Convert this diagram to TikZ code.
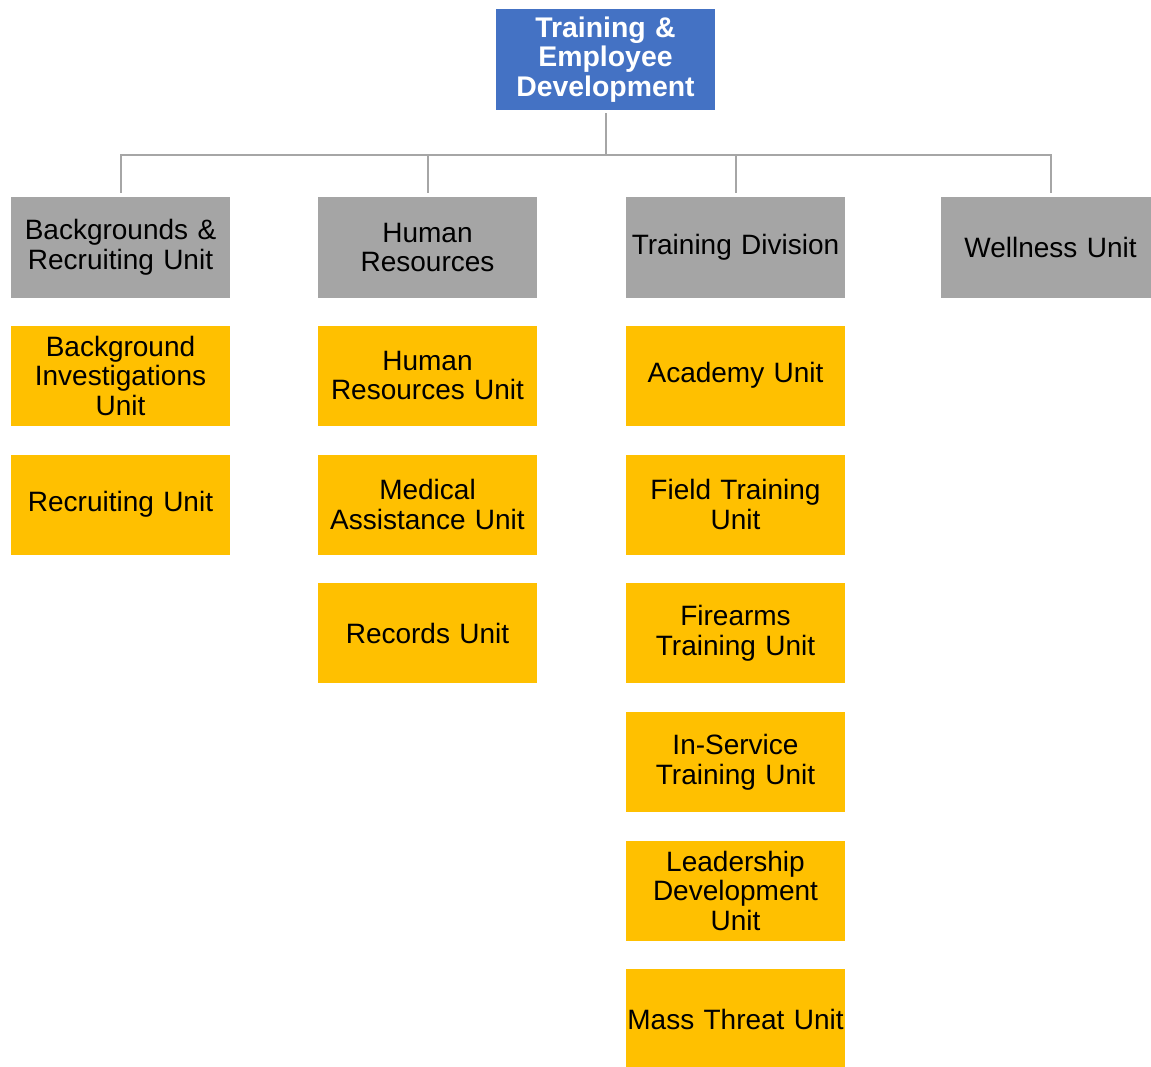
\documentclass[tikz,border=0pt]{standalone}
\usepackage{fontspec}
\setmainfont{Liberation Sans}
\definecolor{topblue}{HTML}{4472C4}
\definecolor{midgray}{HTML}{A5A5A5}
\definecolor{unityellow}{HTML}{FFC000}
\definecolor{linegray}{HTML}{A6A6A6}
\begin{document}
\begin{tikzpicture}[x=1pt,y=-1pt,
  box/.style={rectangle, inner sep=0pt, minimum width=219pt, minimum height=101pt,
    text width=219pt, align=center, font=\fontsize{28}{29.5}\selectfont},
  headbox/.style={box, fill=topblue, text=white, font=\bfseries\fontsize{28.4}{29.5}\selectfont},
  grpbox/.style={box, fill=midgray, text=black},
  unitbox/.style={box, fill=unityellow, text=black, minimum height=100pt},
  conn/.style={draw=linegray, line width=2pt}]
\useasboundingbox (0,0) rectangle (1151,1066);
\clip (0,0) rectangle (1151,1066);
\fill[white] (0,0) rectangle (1151,1066);

\node[headbox] (top) at (605.5,59.5) {Training \&\\Employee\\Development};

\node[grpbox] (g1) at (120.5,247.5) {Backgrounds \&\\Recruiting Unit};
\node[grpbox] (g2) at (427.5,247.5) {Human\\Resources};
\node[grpbox] (g3) at (735.5,247.5) {Training Division};
\node[grpbox] (g4) at (1050.5,247.5) {Wellness Unit};

\node[unitbox] (a1) at (120.5,375.5) {Background\\Investigations\\Unit};
\node[unitbox] (a2) at (120.5,504.5) {Recruiting Unit};

\node[unitbox] (b1) at (427.5,375.5) {Human\\Resources Unit};
\node[unitbox] (b2) at (427.5,504.5) {Medical\\Assistance Unit};
\node[unitbox] (b3) at (427.5,633.3) {Records Unit};

\node[unitbox] (c1) at (735.5,375.5) {Academy Unit};
\node[unitbox] (c2) at (735.5,504.5) {Field Training\\Unit};
\node[unitbox] (c3) at (735.5,633.3) {Firearms\\Training Unit};
\node[unitbox] (c4) at (735.5,762) {In-Service\\Training Unit};
\node[unitbox] (c5) at (735.5,890.8) {Leadership\\Development\\Unit};
\node[unitbox] (c6) at (735.5,1019) {Mass Threat Unit};

\coordinate (bus) at (605.5,155);
\draw[conn, shorten <=3pt] (top.south) -- (bus);
\foreach \g in {g1,g2,g3,g4}{
  \draw[conn, shorten >=4pt] (bus) -| (\g.north);
}
\end{tikzpicture}
\end{document}
